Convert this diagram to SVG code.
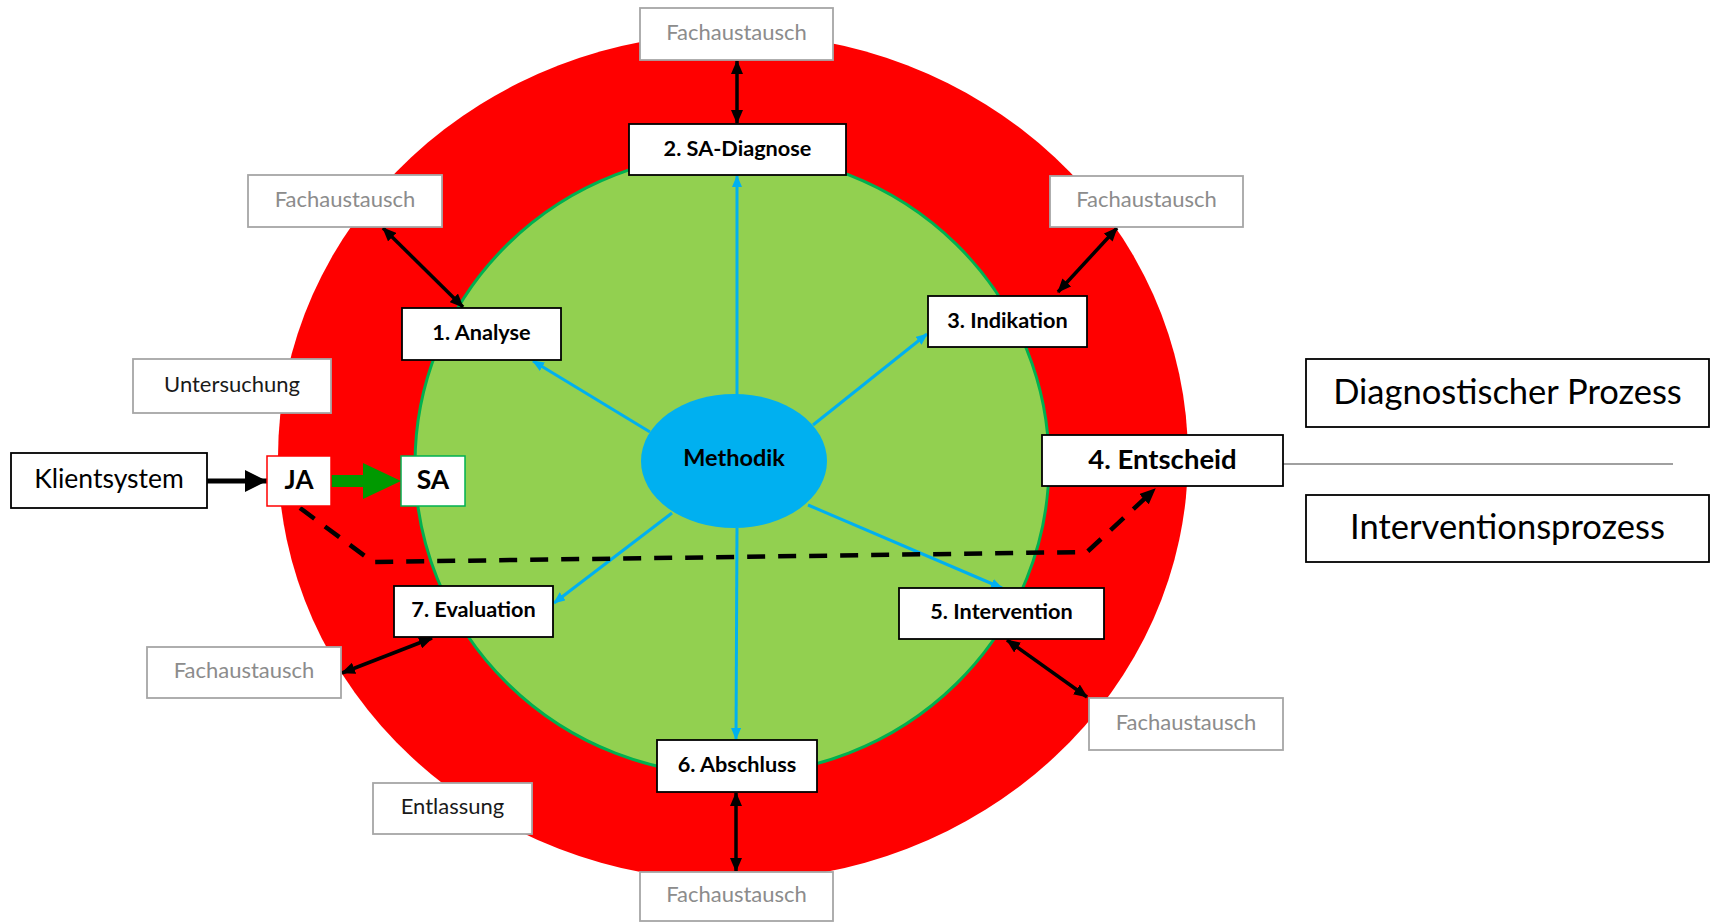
<svg xmlns="http://www.w3.org/2000/svg" width="1712" height="922" viewBox="0 0 1712 922">
  <style>
    text { font-family: Lato, "Open Sans", "Liberation Sans", sans-serif; text-anchor: middle; dominant-baseline: central; }
    .box { fill: #ffffff; stroke: #000000; stroke-width: 1.8; }
    .gbox { fill: #ffffff; stroke: #a6a6a6; stroke-width: 1.8; }
    .step { font-size: 21.7px; font-weight: bold; fill: #000000; }
    .fa { font-size: 22px; fill: #8c8c8c; }
    .plain { font-size: 22px; fill: #1a1a1a; }
    .big { font-size: 34.5px; fill: #000000; }
    .blue { stroke: #00b0f0; stroke-width: 3; fill: none; marker-end: url(#blueHead); }
    .dbl { stroke: #000000; stroke-width: 3.5; fill: none; marker-start: url(#blackHead); marker-end: url(#blackHead); }
  </style>
  <defs>
    <marker id="blueHead" markerUnits="userSpaceOnUse" markerWidth="12" markerHeight="10" refX="11" refY="5" orient="auto">
      <path d="M0,0 L12,5 L0,10 z" fill="#00b0f0"/>
    </marker>
    <marker id="blackHead" markerUnits="userSpaceOnUse" markerWidth="14" markerHeight="12" refX="13" refY="6" orient="auto-start-reverse">
      <path d="M0,0 L14,6 L0,12 z" fill="#000000"/>
    </marker>
    <marker id="dashHead" markerUnits="userSpaceOnUse" markerWidth="16" markerHeight="14" refX="15" refY="7" orient="auto">
      <path d="M0,0 L16,7 L0,14 z" fill="#000000"/>
    </marker>
    <marker id="thickHead" markerUnits="userSpaceOnUse" markerWidth="22" markerHeight="22" refX="22" refY="11" orient="auto">
      <path d="M0,0 L22,11 L0,22 z" fill="#000000"/>
    </marker>
  </defs>

  <rect width="1712" height="922" fill="#ffffff"/>

  <!-- outer ring and inner field -->
  <ellipse id="outer-ring" cx="733" cy="457" rx="455" ry="424" fill="#ff0000"/>
  <ellipse id="inner-field" cx="732" cy="464" rx="317" ry="311" fill="#92d050" stroke="#00b050" stroke-width="3"/>

  <!-- connectors -->
  <g id="connectors">
    <!-- Methodik to the steps -->
    <line class="blue" x1="737" y1="395" x2="737" y2="176"/>
    <line class="blue" x1="650" y1="432" x2="533" y2="361"/>
    <line class="blue" x1="813" y1="425" x2="927" y2="334"/>
    <line class="blue" x1="808" y1="505" x2="1002" y2="588"/>
    <line class="blue" x1="672" y1="513" x2="554" y2="603"/>
    <line class="blue" x1="737" y1="528" x2="736" y2="739"/>

    <!-- exchange arrows -->
    <line class="dbl" x1="737" y1="61" x2="737" y2="123"/>
    <line class="dbl" x1="383" y1="228" x2="463" y2="307"/>
    <line class="dbl" x1="1117" y1="228" x2="1058" y2="292"/>
    <line class="dbl" x1="1007" y1="640" x2="1087" y2="697"/>
    <line class="dbl" x1="432" y1="638" x2="342" y2="673"/>
    <line class="dbl" x1="736" y1="793" x2="736" y2="871"/>

    <!-- Klientsystem to JA -->
    <line x1="207" y1="481" x2="267" y2="481" stroke="#000000" stroke-width="5" marker-end="url(#thickHead)"/>
    <!-- JA to SA -->
    <polygon points="331,475 363,475 363,463 401,481 363,499 363,487 331,487" fill="#009900"/>

    <!-- dashed path to decision -->
    <polyline points="300,508 373,562 1087,552 1155,489" fill="none" stroke="#000000" stroke-width="4.5" stroke-dasharray="18,13" marker-end="url(#dashHead)"/>

    <!-- separator line -->
    <line x1="1283" y1="464" x2="1673" y2="464" stroke="#808080" stroke-width="1.5"/>
  </g>

  <!-- centre -->
  <g id="methodik">
    <ellipse cx="734" cy="461" rx="93" ry="67" fill="#00b0f0"/>
    <text x="734" y="457" class="step" style="font-size:23.5px">Methodik</text>
  </g>

  <!-- steps -->
  <g id="step-1"><rect class="box" x="402" y="308" width="159" height="52"/><text class="step" x="481.5" y="332">1. Analyse</text></g>
  <g id="step-2"><rect class="box" x="629" y="124" width="217" height="51"/><text class="step" x="737.5" y="147.5">2. SA-Diagnose</text></g>
  <g id="step-3"><rect class="box" x="928" y="296" width="159" height="51"/><text class="step" x="1007.5" y="319.5">3. Indikation</text></g>
  <g id="step-4"><rect class="box" x="1042" y="435" width="241" height="51"/><text class="step" x="1162.5" y="458.5" style="font-size:27.5px">4. Entscheid</text></g>
  <g id="step-5"><rect class="box" x="899" y="588" width="205" height="51"/><text class="step" x="1001.5" y="611">5. Intervention</text></g>
  <g id="step-6"><rect class="box" x="657" y="740" width="160" height="52"/><text class="step" x="737" y="764">6. Abschluss</text></g>
  <g id="step-7"><rect class="box" x="394" y="586" width="159" height="51"/><text class="step" x="473.5" y="609">7. Evaluation</text></g>

  <!-- exchange boxes -->
  <g id="fa-top"><rect class="gbox" x="640" y="8" width="193" height="52"/><text class="fa" x="736.5" y="31">Fachaustausch</text></g>
  <g id="fa-top-left"><rect class="gbox" x="248" y="175" width="194" height="52"/><text class="fa" x="345" y="198">Fachaustausch</text></g>
  <g id="fa-top-right"><rect class="gbox" x="1050" y="176" width="193" height="51"/><text class="fa" x="1146.5" y="198.5">Fachaustausch</text></g>
  <g id="fa-left"><rect class="gbox" x="147" y="647" width="194" height="51"/><text class="fa" x="244" y="669.5">Fachaustausch</text></g>
  <g id="fa-bottom-right"><rect class="gbox" x="1089" y="698" width="194" height="52"/><text class="fa" x="1186" y="721">Fachaustausch</text></g>
  <g id="fa-bottom"><rect class="gbox" x="640" y="872" width="193" height="49"/><text class="fa" x="736.5" y="893">Fachaustausch</text></g>

  <!-- entry and exit -->
  <g id="untersuchung"><rect class="gbox" x="133" y="359" width="198" height="54"/><text class="plain" x="232" y="383">Untersuchung</text></g>
  <g id="entlassung"><rect class="gbox" x="373" y="783" width="159" height="51"/><text class="plain" x="452.5" y="805.5">Entlassung</text></g>
  <g id="klientsystem"><rect class="box" x="11" y="453" width="196" height="55" stroke="#333333"/><text class="big" x="109" y="478" style="font-size:26.5px">Klientsystem</text></g>
  <g id="ja"><rect x="267" y="456" width="64" height="50" fill="#ffffff" stroke="#ff0000" stroke-width="1.5"/><text class="step" x="299" y="479" style="font-size:26px">JA</text></g>
  <g id="sa"><rect x="401" y="456" width="64" height="50" fill="#ffffff" stroke="#00b050" stroke-width="1.5"/><text class="step" x="433" y="479" style="font-size:26.5px">SA</text></g>

  <!-- process legend -->
  <g id="diagnostischer-prozess"><rect class="box" x="1306" y="359" width="403" height="68"/><text class="big" x="1507.5" y="390">Diagnostischer Prozess</text></g>
  <g id="interventionsprozess"><rect class="box" x="1306" y="495" width="403" height="67"/><text class="big" x="1507.5" y="525.5">Interventionsprozess</text></g>
</svg>
